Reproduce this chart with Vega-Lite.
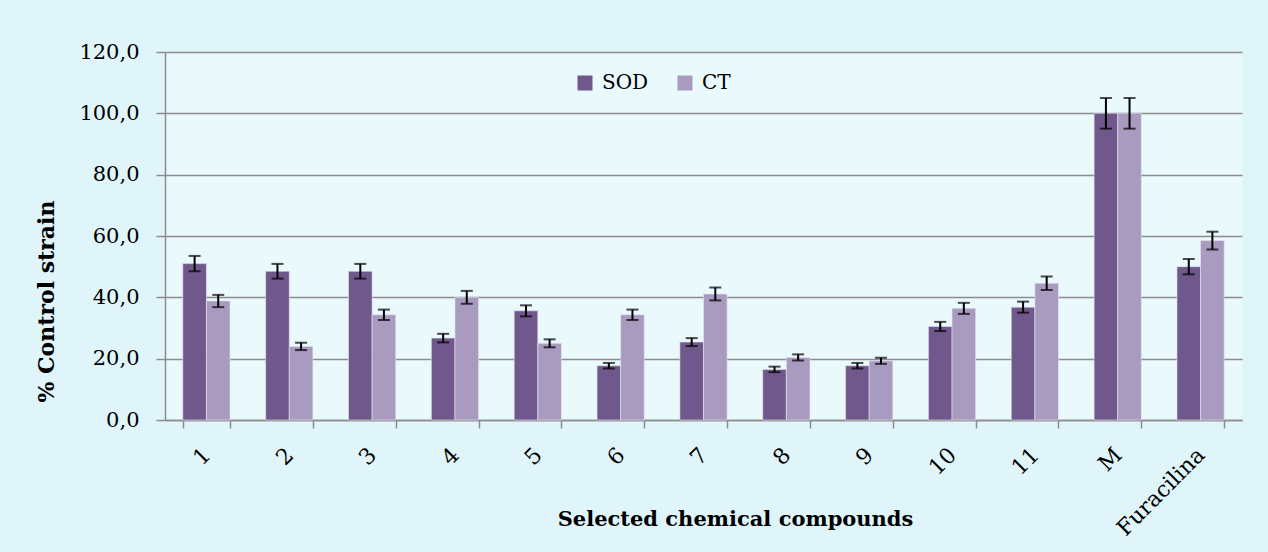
{
  "$schema": "https://vega.github.io/schema/vega-lite/v6.json",
  "width": 1077,
  "height": 368,
  "autosize": "none",
  "padding": {"left": 165, "top": 52, "right": 26, "bottom": 132},
  "background": "#dff5fa",
  "data": {"values": [
    {"compound": "1", "enzyme": "SOD", "value": 51.0, "err": 2.5},
    {"compound": "1", "enzyme": "CT", "value": 38.8, "err": 2.0},
    {"compound": "2", "enzyme": "SOD", "value": 48.5, "err": 2.4},
    {"compound": "2", "enzyme": "CT", "value": 24.0, "err": 1.2},
    {"compound": "3", "enzyme": "SOD", "value": 48.5, "err": 2.4},
    {"compound": "3", "enzyme": "CT", "value": 34.3, "err": 1.7},
    {"compound": "4", "enzyme": "SOD", "value": 26.7, "err": 1.4},
    {"compound": "4", "enzyme": "CT", "value": 40.0, "err": 2.1},
    {"compound": "5", "enzyme": "SOD", "value": 35.6, "err": 1.8},
    {"compound": "5", "enzyme": "CT", "value": 25.0, "err": 1.3},
    {"compound": "6", "enzyme": "SOD", "value": 17.7, "err": 0.9},
    {"compound": "6", "enzyme": "CT", "value": 34.3, "err": 1.7},
    {"compound": "7", "enzyme": "SOD", "value": 25.4, "err": 1.3},
    {"compound": "7", "enzyme": "CT", "value": 41.1, "err": 2.1},
    {"compound": "8", "enzyme": "SOD", "value": 16.5, "err": 0.9},
    {"compound": "8", "enzyme": "CT", "value": 20.4, "err": 1.0},
    {"compound": "9", "enzyme": "SOD", "value": 17.7, "err": 0.9},
    {"compound": "9", "enzyme": "CT", "value": 19.3, "err": 1.0},
    {"compound": "10", "enzyme": "SOD", "value": 30.5, "err": 1.5},
    {"compound": "10", "enzyme": "CT", "value": 36.4, "err": 1.8},
    {"compound": "11", "enzyme": "SOD", "value": 36.8, "err": 1.8},
    {"compound": "11", "enzyme": "CT", "value": 44.6, "err": 2.2},
    {"compound": "M", "enzyme": "SOD", "value": 100.0, "err": 5.0},
    {"compound": "M", "enzyme": "CT", "value": 100.0, "err": 5.0},
    {"compound": "Furacilina", "enzyme": "SOD", "value": 50.0, "err": 2.5},
    {"compound": "Furacilina", "enzyme": "CT", "value": 58.5, "err": 2.9}
  ]},
  "encoding": {
    "x": {
      "field": "compound", "type": "nominal", "sort": null,
      "scale": {"paddingInner": 0.43, "paddingOuter": 0.215},
      "axis": {
        "title": "Selected chemical compounds",
        "labelAngle": -45,
        "labelFontSize": 22,
        "labelPadding": 16,
        "labelOffset": -7,
        "tickBand": "extent",
        "tickSize": 8,
        "titleX": 570,
        "titleY": 105,
        "titleBaseline": "alphabetic",
        "titleAlign": "center",
        "titleAnchor": null
      }
    },
    "xOffset": {"field": "enzyme", "type": "nominal", "sort": ["SOD", "CT"], "scale": {"paddingInner": 0, "paddingOuter": 0}},
    "y": {
      "field": "value", "type": "quantitative",
      "scale": {"domain": [0, 120]},
      "axis": {
        "title": "% Control strain",
        "values": [0, 20, 40, 60, 80, 100, 120],
        "format": ".1f",
        "labelFontSize": 21,
        "labelPadding": 17,
        "tickSize": 9,
        "titlePadding": 20,
        "titleFontSize": 22,
        "titleY": 249,
        "titleAlign": "center",
        "titleAnchor": null
      }
    }
  },
  "layer": [
    {
      "mark": {"type": "bar", "stroke": "#e8e4f0", "strokeWidth": 0.6},
      "encoding": {
        "color": {
          "field": "enzyme", "type": "nominal", "sort": ["SOD", "CT"],
          "scale": {"domain": ["SOD", "CT"], "range": ["#70588c", "#a99bc0"]},
          "legend": {
            "title": null,
            "orient": "none",
            "legendX": 410,
            "legendY": 21,
            "direction": "horizontal",
            "symbolType": "square",
            "symbolSize": 225,
            "symbolStrokeWidth": 0,
            "labelFontSize": 20,
            "labelOffset": 7,
            "columnPadding": 26,
            "padding": 0
          }
        }
      }
    },
    {
      "mark": {"type": "errorbar", "ticks": {"size": 12, "thickness": 2, "color": "black"}, "rule": {"strokeWidth": 2, "color": "black"}},
      "encoding": {
        "yError": {"field": "err"}
      }
    }
  ],
  "config": {
    "locale": {"number": {"decimal": ",", "thousands": ".", "grouping": [3], "currency": ["", ""]}},
    "font": "DejaVu Serif",
    "view": {"fill": "#e9f9fc", "stroke": null},
    "axis": {
      "labelFont": "DejaVu Serif",
      "labelColor": "#000000",
      "titleFont": "DejaVu Serif",
      "titleFontSize": 21,
      "titleFontWeight": "bold",
      "titleColor": "#000000",
      "domainColor": "#8c8c8c",
      "domainWidth": 1.5,
      "tickColor": "#8c8c8c",
      "tickWidth": 1.5,
      "gridColor": "#8c8c8c",
      "gridWidth": 1.5
    },
    "axisX": {"grid": false},
    "axisY": {"grid": true, "domain": true},
    "legend": {"labelFont": "DejaVu Serif", "labelColor": "#000000"}
  }
}
